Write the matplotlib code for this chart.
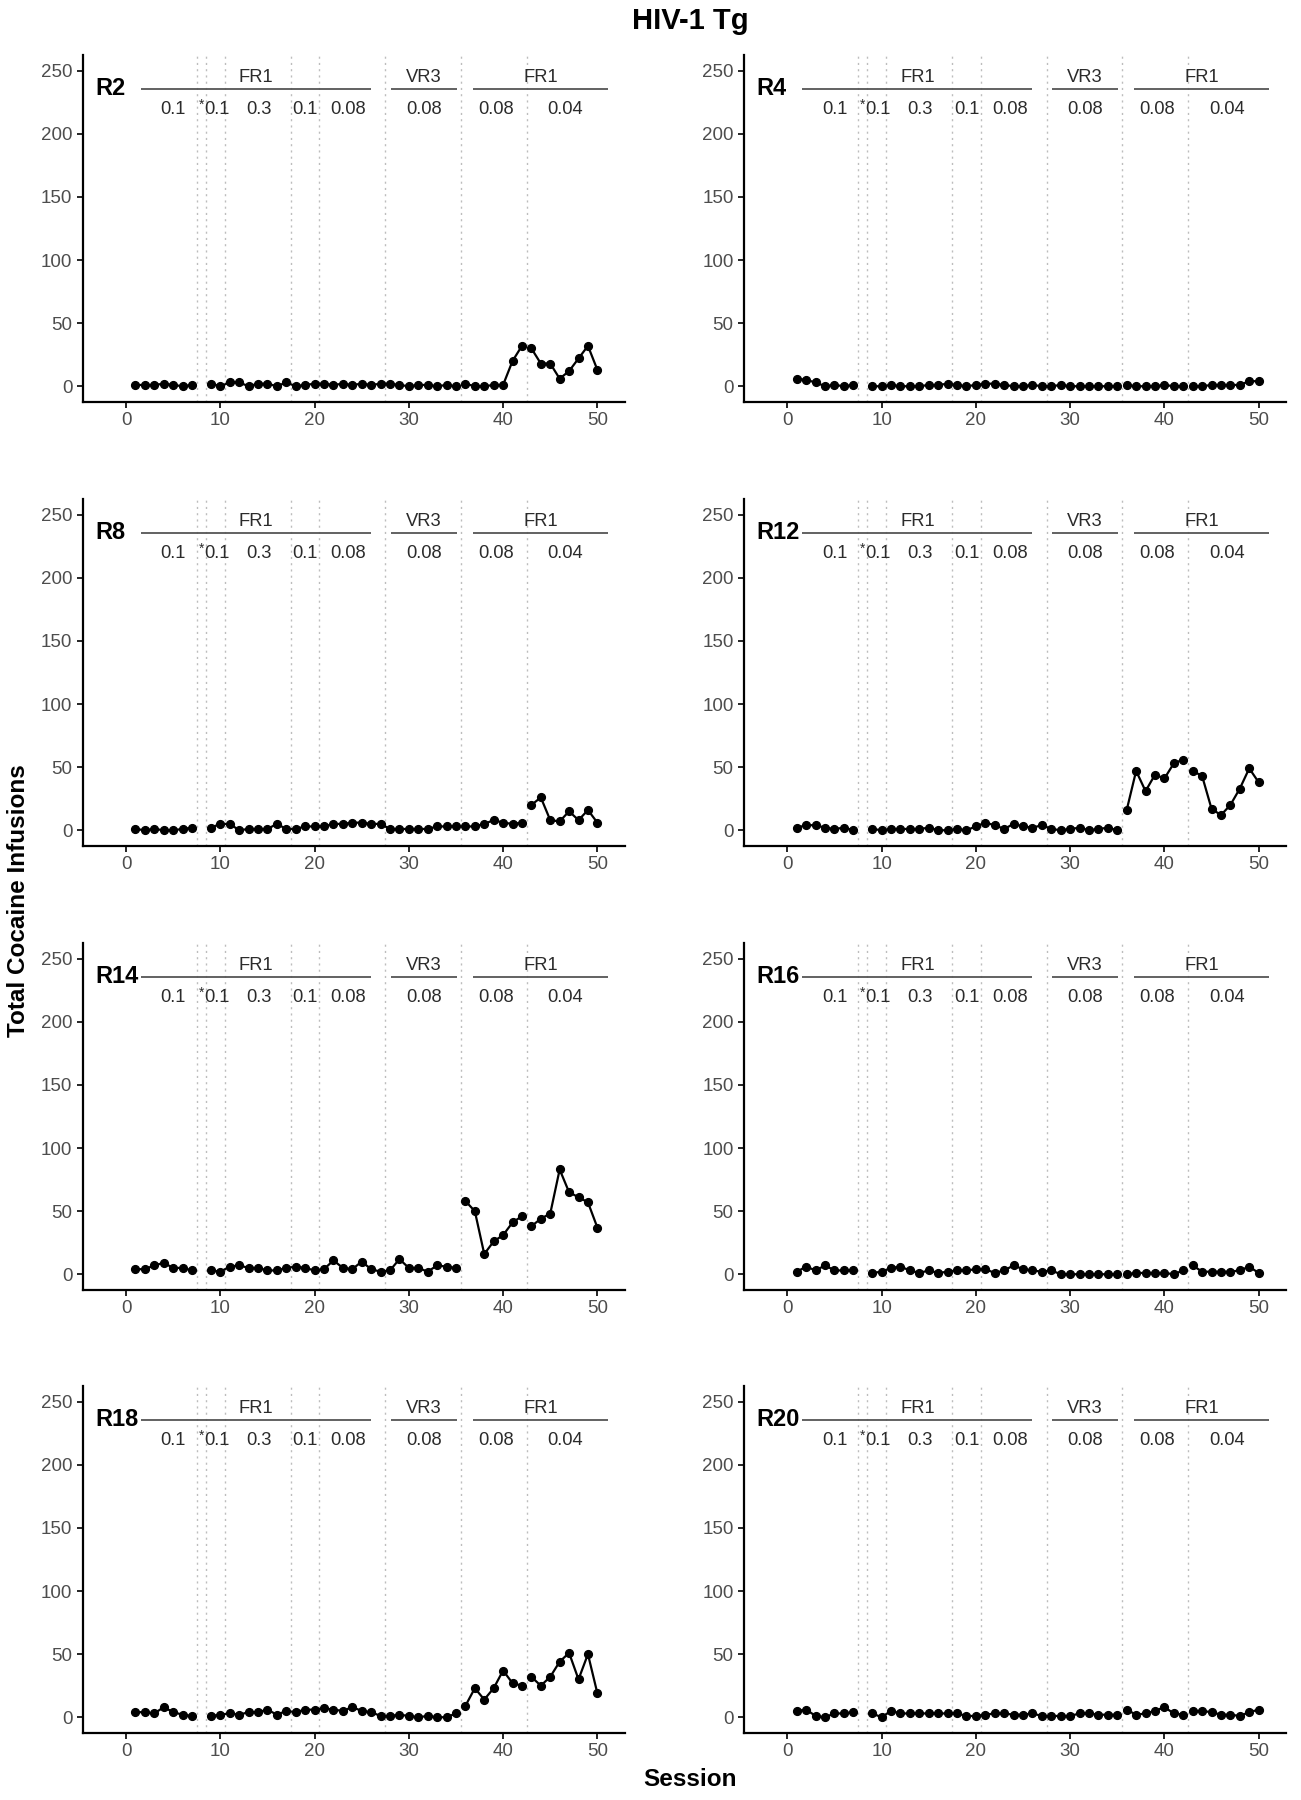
import matplotlib
matplotlib.use("Agg")
import matplotlib.pyplot as plt

plt.rcParams["font.family"] = ["Liberation Sans", "DejaVu Sans"]

# sessions (session 8 has no data)
sessions = list(range(1, 8)) + list(range(9, 51))
segments = [(1, 7), (9, 35), (36, 42), (43, 50)]

r2 = [1, 1, 1, 2, 1, 0, 1,
      2, 0, 3, 3, 0, 2, 2, 0, 3, 0, 1, 2, 2, 1, 2, 1, 2, 1, 2, 2, 1, 0, 1, 1, 0, 1, 0,
      2, 0, 0, 1, 1, 20, 32,
      30, 18, 18, 6, 12, 22, 32, 13]
r4 = [6, 5, 3, 0, 1, 0, 1,
      0, 0, 1, 0, 0, 0, 1, 1, 2, 1, 0, 1, 2, 2, 1, 0, 0, 1, 0, 0, 1, 0, 0, 0, 0, 0, 0,
      1, 0, 0, 0, 1, 0, 0,
      0, 0, 1, 1, 1, 1, 4, 4]
r8 = [1, 0, 1, 0, 0, 1, 2,
      2, 5, 5, 0, 1, 1, 1, 5, 1, 1, 3, 3, 3, 5, 5, 6, 6, 5, 5, 1, 1, 1, 1, 1, 3, 3, 3,
      3, 3, 5, 8, 6, 5, 6,
      20, 26, 8, 7, 15, 8, 16, 6]
r12 = [2, 4, 4, 2, 1, 2, 0,
       1, 0, 1, 1, 1, 1, 2, 0, 0, 1, 0, 3, 6, 4, 1, 5, 3, 2, 4, 1, 0, 1, 2, 0, 1, 2, 0,
       16, 47, 31, 44, 41, 53, 56,
       47, 43, 17, 12, 20, 33, 49, 38]
r14 = [4, 4, 7, 9, 5, 5, 3,
       3, 2, 6, 7, 5, 5, 3, 3, 5, 6, 5, 3, 4, 11, 5, 4, 10, 4, 2, 3, 12, 5, 5, 2, 7, 6, 5,
       58, 50, 16, 26, 31, 41, 46,
       38, 44, 48, 83, 65, 61, 57, 37]
r16 = [2, 6, 3, 7, 3, 3, 3,
       1, 2, 5, 6, 3, 1, 3, 1, 2, 3, 3, 4, 4, 1, 3, 7, 4, 3, 2, 3, 0, 0, 0, 0, 0, 0, 0,
       0, 1, 1, 1, 1, 0, 3,
       7, 2, 2, 2, 2, 3, 6, 1]
r18 = [4, 4, 3, 8, 4, 2, 1,
       1, 2, 3, 2, 4, 4, 6, 2, 5, 4, 6, 6, 7, 6, 5, 8, 5, 4, 1, 1, 2, 1, 0, 1, 0, 0, 3,
       9, 23, 14, 23, 37, 27, 25,
       32, 25, 32, 44, 51, 30, 50, 19]
r20 = [5, 6, 1, 0, 3, 3, 4,
       3, 0, 5, 3, 3, 3, 3, 3, 3, 3, 1, 1, 2, 3, 3, 2, 2, 3, 1, 1, 1, 1, 3, 3, 2, 2, 2,
       6, 2, 3, 5, 8, 3, 2,
       5, 5, 4, 2, 2, 1, 4, 6]

rats = ["R2", "R4", "R8", "R12", "R14", "R16", "R18", "R20"]
series = [r2, r4, r8, r12, r14, r16, r18, r20]

# phase annotations
phase_lines = [7.5, 8.5, 10.5, 17.5, 20.5, 27.5, 35.5, 42.5]
schedules = ["FR1", "VR3", "FR1"]
schedule_spans = [(1.6, 26.0), (28.1, 35.1), (36.8, 51.1)]
doses = ["0.1", "0.1", "0.3", "0.1", "0.08", "0.08", "0.08", "0.04"]
dose_x = [5.0, 9.6, 14.1, 19.0, 23.6, 31.6, 39.2, 46.6]

fig = plt.figure(figsize=(13.01, 18), dpi=100)

W, H = 1301, 1800
col_left = [82.7, 744]
col_w = 542
row_top = [55, 499, 943, 1386]
row_h = 347

TICK_COL = "#4d4d4d"
ANN_COL = "#2b2b2b"

for i, (name, vals) in enumerate(zip(rats, series)):
    r, c = divmod(i, 2)
    ax = fig.add_axes([col_left[c] / W, 1 - (row_top[r] + row_h) / H,
                       col_w / W, row_h / H])
    ax.set_xlim(-4.6, 52.9)
    ax.set_ylim(-12.5, 262.5)

    for xv in phase_lines:
        ax.axvline(xv, color="#bdbdbd", lw=1.0, ls=(0, (1.5, 3)), zorder=1)

    for a, b in segments:
        xs = [s for s in sessions if a <= s <= b]
        ys = [v for s, v in zip(sessions, vals) if a <= s <= b]
        ax.plot(xs, ys, color="black", lw=1.6, marker="o", ms=5.6, zorder=3)

    ax.text(-3.3, 236, name, fontsize=17, fontweight="bold", ha="left", va="center")
    for lab, (x0, x1) in zip(schedules, schedule_spans):
        ax.plot([x0, x1], [235.5, 235.5], color="#555555", lw=1.3, solid_capstyle="butt")
        ax.text((x0 + x1) / 2, 245, lab, fontsize=13.2, ha="center", va="center", color=ANN_COL)
    for lab, xv in zip(doses, dose_x):
        ax.text(xv, 219, lab, fontsize=13.2, ha="center", va="center", color=ANN_COL)
    ax.text(8.0, 223, "*", fontsize=10, ha="center", va="center", color=ANN_COL)

    ax.set_xticks([0, 10, 20, 30, 40, 50])
    ax.set_yticks([0, 50, 100, 150, 200, 250])
    ax.tick_params(axis="both", colors="black", labelcolor=TICK_COL,
                   labelsize=13.5, length=4, width=1.2, direction="out")
    for side in ["top", "right"]:
        ax.spines[side].set_visible(False)
    for side in ["left", "bottom"]:
        ax.spines[side].set_color("black")
        ax.spines[side].set_linewidth(1.6)

fig.text(690 / W, 1 - 21 / H, "HIV-1 Tg", fontsize=21, fontweight="bold",
         ha="center", va="center")
fig.text(690 / W, 1 - 1780 / H, "Session", fontsize=17.5, fontweight="bold",
         ha="center", va="center")
fig.text(19 / W, 1 - 901 / H, "Total Cocaine Infusions", fontsize=17.5,
         fontweight="bold", ha="center", va="center", rotation=90)

fig.savefig("out.png", dpi=100, facecolor="white")
